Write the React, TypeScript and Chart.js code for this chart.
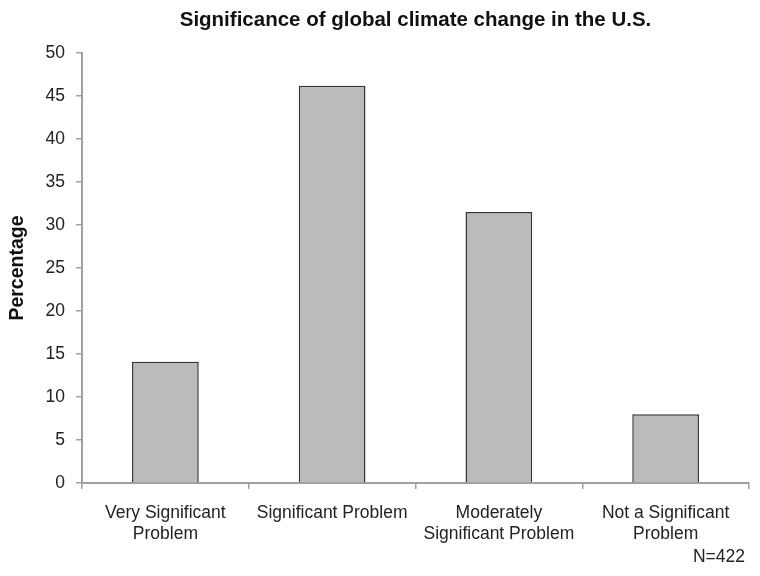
import React, { useEffect, useRef } from "react";
import { Chart, registerables } from "chart.js";

Chart.register(...registerables);

const categories: (string | string[])[] = [
  ["Very Significant", "Problem"],
  "Significant Problem",
  ["Moderately", "Significant Problem"],
  ["Not a Significant", "Problem"],
];
const percentages = [14.1, 46.2, 31.5, 8.0];
const chartTitle = "Significance of global climate change in the U.S.";
const yAxisTitle = "Percentage";
const footnote = "N=422";

const FONT = "'Liberation Sans', Arial, Helvetica, sans-serif";

export default function App() {
  const ref = useRef<HTMLCanvasElement | null>(null);
  useEffect(() => {
    if (!ref.current) return;
    const textPlugin = {
      id: "extraText",
      afterDraw(chart: any) {
        const ctx = chart.ctx;
        const ca = chart.chartArea;
        ctx.save();
        ctx.fillStyle = "#111";
        ctx.font = `bold 20.5px ${FONT}`;
        ctx.textAlign = "center";
        ctx.textBaseline = "middle";
        ctx.fillText(chartTitle, (ca.left + ca.right) / 2, 20);
        ctx.font = `17.5px ${FONT}`;
        ctx.textAlign = "right";
        ctx.fillStyle = "#222";
        ctx.fillText(footnote, 745, 557);
        ctx.restore();
      },
    };
    const chart = new Chart(ref.current, {
      type: "bar",
      data: {
        labels: categories,
        datasets: [
          {
            data: percentages,
            backgroundColor: "#bbbbbb",
            borderColor: "#333333",
            borderWidth: 1.5,
            barPercentage: 0.4,
            categoryPercentage: 1,
          },
        ],
      },
      options: {
        animation: false,
        responsive: true,
        maintainAspectRatio: false,
        layout: { padding: { top: 53, right: 11, bottom: 0, left: 0 } },
        plugins: {
          legend: { display: false },
          title: { display: false },
          tooltip: { enabled: false },
        },
        scales: {
          x: {
            grid: {
              display: true,
              drawOnChartArea: false,
              drawTicks: true,
              tickLength: 6,
              color: "#a0a0a0",
              lineWidth: 1.5,
            },
            border: { display: true, color: "#a0a0a0", width: 2 },
            ticks: {
              color: "#222",
              font: { family: FONT, size: 17.5, lineHeight: 1.2 },
              padding: 14,
              maxRotation: 0,
              autoSkip: false,
            },
            afterFit(scale: any) {
              scale.height = 93;
            },
          },
          y: {
            min: 0,
            max: 50,
            ticks: {
              stepSize: 5,
              color: "#222",
              font: { family: FONT, size: 17.5 },
              padding: 11,
            },
            grid: {
              display: true,
              drawOnChartArea: false,
              drawTicks: true,
              tickLength: 6,
              color: "#a0a0a0",
              lineWidth: 1.5,
            },
            border: { display: true, color: "#a0a0a0", width: 2 },
            title: {
              display: true,
              text: yAxisTitle,
              color: "#111",
              font: { family: FONT, size: 19.5, weight: "bold" },
              padding: { top: 6, bottom: 0 },
            },
            afterFit(scale: any) {
              scale.width = 82;
            },
          },
        },
      },
      plugins: [textPlugin],
    });
    return () => chart.destroy();
  }, []);
  return (
    <div style={{ position: "fixed", left: 0, top: 0, width: 760, height: 576, background: "#fff" }}>
      <canvas ref={ref} />
    </div>
  );
}
